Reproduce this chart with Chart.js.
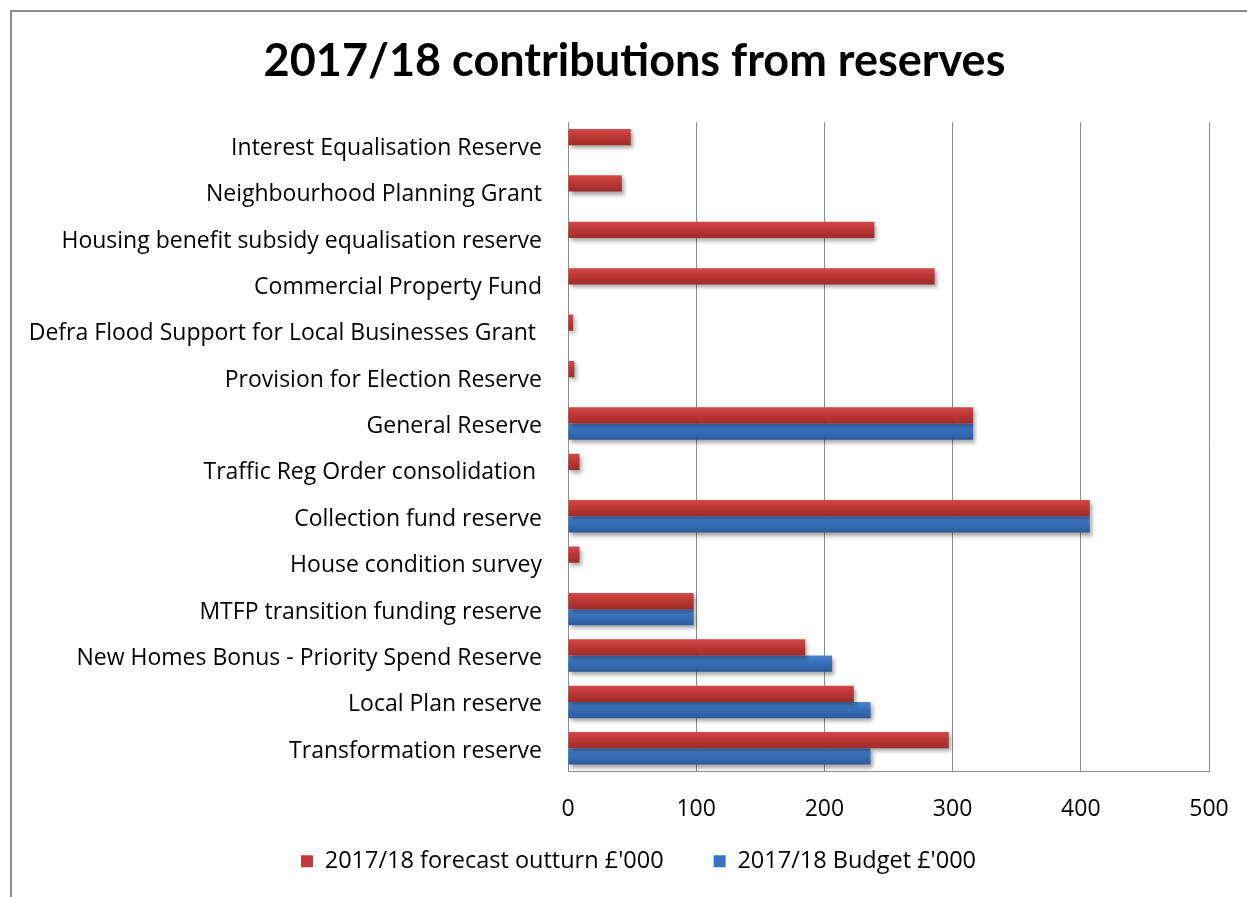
<!DOCTYPE html>
<html><head><meta charset="utf-8">
<script src="https://cdn.jsdelivr.net/npm/chart.js@4"></script>
<style>
html,body{margin:0;padding:0;background:#fff;}
#wrap{position:relative;width:1247px;height:897px;}
#frame{position:absolute;left:10px;top:10px;width:1300px;height:1000px;border-left:2px solid #8c8c8c;border-top:2px solid #8c8c8c;pointer-events:none;}
canvas{position:absolute;left:0;top:0;}
</style></head>
<body><div id="wrap"><canvas id="c" width="1247" height="897"></canvas><div id="frame"></div></div>
<script>
const categories = [
  "Interest Equalisation Reserve",
  "Neighbourhood Planning Grant",
  "Housing benefit subsidy equalisation reserve",
  "Commercial Property Fund",
  "Defra Flood Support for Local Businesses Grant ",
  "Provision for Election Reserve",
  "General Reserve",
  "Traffic Reg Order consolidation ",
  "Collection fund reserve",
  "House condition survey",
  "MTFP transition funding reserve",
  "New Homes Bonus - Priority Spend Reserve",
  "Local Plan reserve",
  "Transformation reserve"
];
const forecastOutturn = [49, 42, 239, 286, 4, 5, 316, 9, 407, 9, 98, 185, 223, 297];
const budget = [null, null, null, null, null, null, 316, null, 407, null, 98, 206, 236, 236];
const xTicks = [0, 100, 200, 300, 400, 500];
const seriesNames = ["2017/18 forecast outturn £'000", "2017/18 Budget £'000"];

const FONT = "'Open Sans', Lato, sans-serif";
const TITLE_FONT = "Lato, 'Open Sans', sans-serif";

const LEGEND_GAP = 50;      // spacing between legend items
const LEGEND_PAD = 10;      // effective vertical padding
const LEGEND_EXTRA = LEGEND_GAP - LEGEND_PAD;

const shadeBars = {
  id: 'shadeBars',
  beforeDatasetsDraw(chart) {
    const ctx = chart.ctx;
    const cols = [["#d24a48", "#c23a39", "#9e2b2a"], ["#4a85d0", "#3a73c0", "#2c5b9c"]];
    chart.data.datasets.forEach((ds, i) => {
      const meta = chart.getDatasetMeta(i);
      meta.data.forEach(bar => {
        const h = bar.height;
        if (!h || isNaN(bar.y)) return;
        const g = ctx.createLinearGradient(0, bar.y - h / 2, 0, bar.y + h / 2);
        g.addColorStop(0, cols[i][0]);
        g.addColorStop(0.35, cols[i][1]);
        g.addColorStop(1, cols[i][2]);
        bar.options = Object.assign({}, bar.options, { backgroundColor: g });
      });
    });
    ctx.save();
    ctx.shadowColor = 'rgba(0,0,0,0.35)';
    ctx.shadowBlur = 4;
    ctx.shadowOffsetX = 2;
    ctx.shadowOffsetY = 3;
  },
  afterDatasetsDraw(chart) {
    chart.ctx.restore();
  }
};

const placeBlocks = {
  id: 'placeBlocks',
  afterInit(chart) {
    const lg = chart.legend;
    if (lg) {
      const fit = lg.fit;
      lg.fit = function () { fit.call(this); this.height -= LEGEND_EXTRA; };
    }
  },
  afterLayout(chart) {
    const t = chart.titleBlock;
    if (t) { t.left += 20; t.right += 20; }
    const lg = chart.legend;
    if (lg) { lg.top -= LEGEND_EXTRA; lg.left += 24; lg.right += 24; }
  }
};

new Chart(document.getElementById('c'), {
  type: 'bar',
  data: {
    labels: categories,
    datasets: [
      { label: seriesNames[0], data: forecastOutturn, backgroundColor: '#c23a39', borderWidth: 0 },
      { label: seriesNames[1], data: budget, backgroundColor: '#3a73c0', borderWidth: 0 }
    ]
  },
  options: {
    responsive: false,
    animation: false,
    indexAxis: 'y',
    layout: { padding: { left: 20, right: 38, top: 0, bottom: 14 } },
    datasets: { bar: { categoryPercentage: 0.7, barPercentage: 1.0 } },
    plugins: {
      title: {
        display: true,
        text: '2017/18 contributions from reserves',
        color: '#000',
        font: { family: TITLE_FONT, size: 45, weight: 'bold' },
        padding: { top: 34, bottom: 34 }
      },
      legend: {
        position: 'bottom',
        labels: {
          color: '#000',
          font: { family: FONT, size: 23.5 },
          boxWidth: 12, boxHeight: 12,
          padding: LEGEND_GAP
        }
      },
      tooltip: { enabled: false }
    },
    scales: {
      x: {
        min: 0, max: 500,
        afterBuildTicks(scale) { scale.ticks = xTicks.map(v => ({ value: v })); },
        grid: { color: '#8c8c8c', lineWidth: 1, drawTicks: false },
        border: { color: '#8c8c8c' },
        ticks: { color: '#000', font: { family: FONT, size: 23 }, padding: 24 },
        afterFit(scale) { scale.height = 68; scale.paddingRight = 0; scale.paddingLeft = 0; }
      },
      y: {
        grid: { display: false, drawTicks: false },
        border: { color: '#8c8c8c' },
        ticks: { color: '#000', font: { family: FONT, size: 23 }, padding: 26, autoSkip: false, labelOffset: 3 },
        afterFit(scale) { scale.width = 548; }
      }
    }
  },
  plugins: [shadeBars, placeBlocks]
});
</script>
</body></html>
